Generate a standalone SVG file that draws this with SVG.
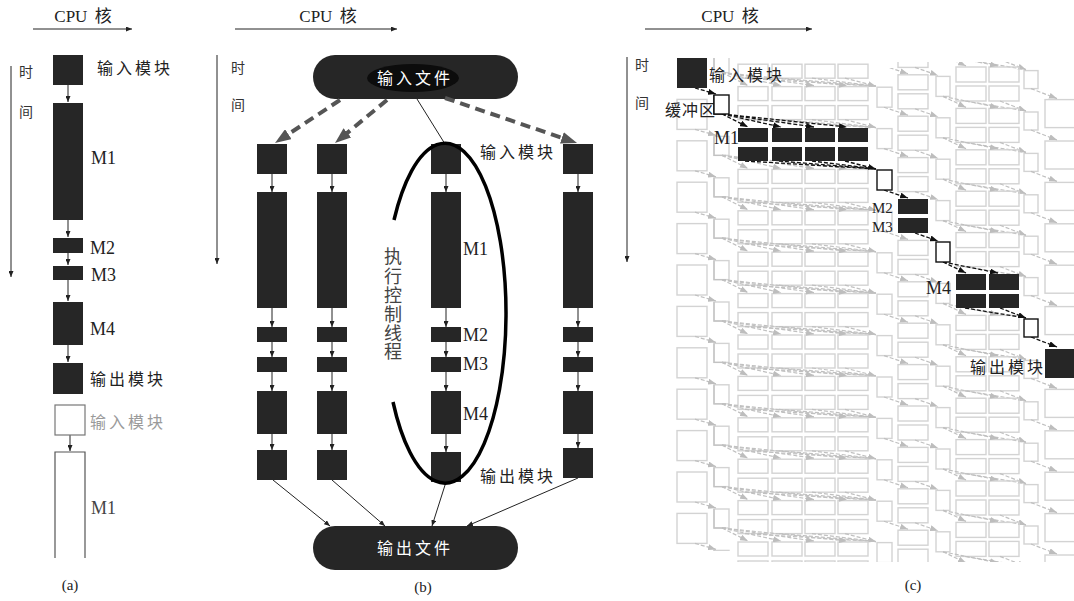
<svg xmlns="http://www.w3.org/2000/svg" xmlns:xlink="http://www.w3.org/1999/xlink" width="1074" height="601" viewBox="0 0 1074 601">
<style>
.dk{fill:#262626}
.t{font-family:"Liberation Serif","Noto Sans CJK SC",serif;font-size:16px;fill:#222;letter-spacing:3px}
.m{font-family:"Liberation Serif","Noto Sans CJK SC",serif;font-size:18px;fill:#222}
.cpu{font-family:"Liberation Serif","Noto Sans CJK SC",serif;font-size:17px;fill:#222;word-spacing:3px}
.tm{font-family:"Liberation Serif","Noto Sans CJK SC",serif;font-size:14px;fill:#333}
.cap{font-family:"Liberation Serif",serif;font-size:15px;fill:#222}
.thin{stroke:#222;stroke-width:1;fill:none;marker-end:url(#ms)}
.thick{stroke:#555;stroke-width:4;stroke-dasharray:10 6;fill:none;marker-end:url(#mb)}
.da{stroke:#111;stroke-width:1.3;stroke-dasharray:4 2;fill:none}
.dam{marker-end:url(#md)}
.buf{fill:#fff;stroke:#111;stroke-width:1.4}
.wt{font-family:"Liberation Serif","Noto Sans CJK SC",serif;font-size:16px;fill:#fff;letter-spacing:3px}
</style>
<defs>
<marker id="ms" markerUnits="userSpaceOnUse" markerWidth="6" markerHeight="5" refX="6" refY="2.5" orient="auto"><path d="M0,0 L6,2.5 L0,5 z" fill="#222"/></marker>
<marker id="mb" markerUnits="userSpaceOnUse" markerWidth="16" markerHeight="12" refX="2" refY="6" orient="auto"><path d="M0,0 L16,6 L0,12 z" fill="#555"/></marker>
<marker id="mg" markerUnits="userSpaceOnUse" markerWidth="8" markerHeight="6" refX="8" refY="3" orient="auto"><path d="M0,0 L8,3 L0,6 z" fill="#bdbdbd"/></marker>
<marker id="md" markerUnits="userSpaceOnUse" markerWidth="8" markerHeight="6" refX="8" refY="3" orient="auto"><path d="M0,0 L8,3 L0,6 z" fill="#111"/></marker>
<clipPath id="cclip"><polygon points="670,58 735,58 735,62 872,62 872,68 896,68 896,62 1074,62 1074,562 733,562 733,551 708,551 708,562 670,562"/></clipPath>
<g id="chain">
 <g fill="none" stroke="#d3d3d3" stroke-width="1.4">
  <rect x="677" y="58" width="30" height="30"/>
  <rect x="714" y="95" width="15" height="19"/>
  <rect x="738" y="128" width="30" height="14"/><rect x="772" y="128" width="30" height="14"/><rect x="805" y="128" width="30" height="14"/><rect x="838" y="128" width="30" height="14"/>
  <rect x="738" y="147" width="30" height="14"/><rect x="772" y="147" width="30" height="14"/><rect x="805" y="147" width="30" height="14"/><rect x="838" y="147" width="30" height="14"/>
  <rect x="877" y="170" width="15" height="20"/>
  <rect x="898" y="199" width="30" height="15"/><rect x="898" y="218" width="30" height="15"/>
  <rect x="936" y="242" width="14" height="20"/>
  <rect x="956" y="274" width="30" height="15"/><rect x="989" y="274" width="30" height="15"/>
  <rect x="956" y="293" width="30" height="15"/><rect x="989" y="293" width="30" height="15"/>
  <rect x="1024" y="319" width="14" height="18"/>
  <rect x="1045" y="348" width="30" height="28"/>
 </g>
 <path d="M714,95 V114 H726" fill="none" stroke="#c2c2c2" stroke-width="1.3"/>
 <g fill="none" stroke="#c0c0c0" stroke-width="1.2" stroke-dasharray="4 2" marker-end="url(#mg)">
  <path d="M695,88 L716,94"/>
  <path d="M722,114 L748,127"/><path d="M722,114 L781,127"/><path d="M722,114 L814,127"/><path d="M722,114 L847,127"/>
  <path d="M845,161 L876,169"/>
  <path d="M884,190 L908,198"/>
  <path d="M915,233 L938,241"/>
  <path d="M943,262 L966,273"/><path d="M943,262 L998,273"/>
  <path d="M1000,308 L1026,318"/>
  <path d="M1031,337 L1057,347"/>
 </g>
 <g fill="none" stroke="#c0c0c0" stroke-width="1.2" stroke-dasharray="4 2">
  <path d="M745,161 L876,169"/><path d="M779,161 L876,169"/><path d="M812,161 L876,169"/>
  <path d="M965,308 L1026,318"/>
 </g>
</g>
</defs>
<rect width="1074" height="601" fill="#fff"/>

<!-- Panel (a) -->
<g id="a-axes">
 <text class="cpu" x="83" y="22" text-anchor="middle">CPU 核</text>
 <line class="thin" x1="33" y1="29" x2="132" y2="29"/>
 <line class="thin" x1="11" y1="66" x2="11" y2="277"/>
 <text class="tm" x="26" y="77" text-anchor="middle">时</text>
 <text class="tm" x="26" y="117" text-anchor="middle">间</text>
</g>
<g id="a-connectors">
 <line class="thin" x1="68" y1="85" x2="68" y2="102"/>
 <line class="thin" x1="68" y1="220" x2="68" y2="237"/>
 <line class="thin" x1="68" y1="253" x2="68" y2="265"/>
 <line class="thin" x1="68" y1="280" x2="68" y2="301"/>
 <line class="thin" x1="68" y1="345" x2="68" y2="362"/>
 <line class="thin" x1="70" y1="435" x2="70" y2="451"/>
</g>
<g id="a-in"><rect class="dk" x="53" y="55" width="30" height="30"/><text class="t" x="97" y="74">输入模块</text></g>
<g id="a-m1"><rect class="dk" x="53" y="103" width="30" height="117"/><text class="m" x="91" y="164">M1</text></g>
<g id="a-m2"><rect class="dk" x="53" y="238" width="30" height="15"/><text class="m" x="90" y="254">M2</text></g>
<g id="a-m3"><rect class="dk" x="53" y="266" width="30" height="14"/><text class="m" x="91" y="281">M3</text></g>
<g id="a-m4"><rect class="dk" x="53" y="302" width="30" height="43"/><text class="m" x="90" y="335">M4</text></g>
<g id="a-out"><rect class="dk" x="53" y="363" width="30" height="31"/><text class="t" x="90" y="385">输出模块</text></g>
<g id="a-in2"><rect x="55" y="405" width="30" height="30" fill="#fff" stroke="#777" stroke-width="1.2"/><text class="t" x="90" y="428" style="fill:#9a9a9a">输入模块</text></g>
<g id="a-m1b"><path d="M55,558 V452 H85 V558" fill="none" stroke="#555" stroke-width="1.2"/><text class="m" x="91" y="514" style="fill:#444">M1</text></g>
<text class="cap" x="70" y="590" text-anchor="middle">(a)</text>

<!-- Panel (b) -->
<g id="b-axes">
 <text class="cpu" x="328" y="22" text-anchor="middle">CPU 核</text>
 <line class="thin" x1="235" y1="29" x2="397" y2="29"/>
 <line class="thin" x1="217" y1="55" x2="217" y2="264"/>
 <text class="tm" x="238" y="73" text-anchor="middle">时</text>
 <text class="tm" x="238" y="110" text-anchor="middle">间</text>
</g>
<g id="b-infile"><rect class="dk" x="313" y="55" width="205" height="44" rx="22"/><ellipse cx="413" cy="78" rx="46" ry="14" fill="#0c0c0c"/><text class="wt" x="415" y="84" text-anchor="middle">输入文件</text></g>
<g id="b-outfile"><rect class="dk" x="313" y="526" width="205" height="44" rx="22"/><text class="wt" x="415" y="554" text-anchor="middle">输出文件</text></g>
<g id="b-connectors">
 <path class="thick" d="M340,100 L286.7,135.3"/>
 <path class="thick" d="M387,100 L345.8,134.1"/>
 <path class="thick" d="M445,98 L563.8,138.5"/>
 <line x1="417" y1="99" x2="445" y2="144" stroke="#222" stroke-width="1"/>
 <line class="thin" x1="273" y1="480" x2="330" y2="526"/>
 <line class="thin" x1="332" y1="480" x2="385" y2="526"/>
 <line class="thin" x1="446" y1="482" x2="432" y2="526"/>
 <line class="thin" x1="578" y1="478" x2="467" y2="526"/>
 <g id="b-inner">
  <line class="thin" x1="272" y1="174" x2="272" y2="192"/><line class="thin" x1="272" y1="308" x2="272" y2="327"/><line class="thin" x1="272" y1="342" x2="272" y2="357"/><line class="thin" x1="272" y1="372" x2="272" y2="391"/><line class="thin" x1="272" y1="434" x2="272" y2="450"/>
  <line class="thin" x1="332" y1="174" x2="332" y2="192"/><line class="thin" x1="332" y1="308" x2="332" y2="327"/><line class="thin" x1="332" y1="342" x2="332" y2="357"/><line class="thin" x1="332" y1="372" x2="332" y2="391"/><line class="thin" x1="332" y1="434" x2="332" y2="450"/>
  <line class="thin" x1="446" y1="174" x2="446" y2="192"/><line class="thin" x1="446" y1="308" x2="446" y2="327"/><line class="thin" x1="446" y1="342" x2="446" y2="357"/><line class="thin" x1="446" y1="372" x2="446" y2="391"/><line class="thin" x1="446" y1="434" x2="446" y2="452"/>
  <line class="thin" x1="578" y1="174" x2="578" y2="192"/><line class="thin" x1="578" y1="308" x2="578" y2="327"/><line class="thin" x1="578" y1="342" x2="578" y2="357"/><line class="thin" x1="578" y1="372" x2="578" y2="391"/><line class="thin" x1="578" y1="434" x2="578" y2="448"/>
 </g>
</g>
<g id="b-col1">
 <rect class="dk" x="257" y="144" width="30" height="30"/><rect class="dk" x="257" y="192" width="30" height="116"/><rect class="dk" x="257" y="327" width="30" height="15"/><rect class="dk" x="257" y="357" width="30" height="15"/><rect class="dk" x="257" y="391" width="30" height="43"/><rect class="dk" x="257" y="450" width="30" height="30"/>
</g>
<g id="b-col2">
 <rect class="dk" x="317" y="144" width="30" height="30"/><rect class="dk" x="317" y="192" width="30" height="116"/><rect class="dk" x="317" y="327" width="30" height="15"/><rect class="dk" x="317" y="357" width="30" height="15"/><rect class="dk" x="317" y="391" width="30" height="43"/><rect class="dk" x="317" y="450" width="30" height="30"/>
</g>
<g id="b-col3">
 <rect class="dk" x="431" y="144" width="30" height="30"/><rect class="dk" x="431" y="192" width="30" height="116"/><rect class="dk" x="431" y="327" width="30" height="15"/><rect class="dk" x="431" y="357" width="30" height="15"/><rect class="dk" x="431" y="391" width="30" height="43"/><rect class="dk" x="431" y="452" width="30" height="30"/>
</g>
<g id="b-col4">
 <rect class="dk" x="563" y="144" width="30" height="30"/><rect class="dk" x="563" y="192" width="30" height="116"/><rect class="dk" x="563" y="327" width="30" height="15"/><rect class="dk" x="563" y="357" width="30" height="15"/><rect class="dk" x="563" y="391" width="30" height="43"/><rect class="dk" x="563" y="448" width="30" height="30"/>
</g>
<g id="b-thread">
 <path d="M394,220 A61,170 0 1 1 393,402" fill="none" stroke="#000" stroke-width="3.5"/>
 <g class="tm" style="font-size:18px;fill:#444" text-anchor="middle">
  <text x="393" y="263">执</text><text x="393" y="283">行</text><text x="393" y="302">控</text><text x="393" y="321">制</text><text x="393" y="340">线</text><text x="393" y="358">程</text>
 </g>
</g>
<g id="b-labels">
 <text class="t" x="480" y="158">输入模块</text>
 <text class="m" x="463" y="255">M1</text>
 <text class="m" x="463" y="341">M2</text>
 <text class="m" x="463" y="370">M3</text>
 <text class="m" x="463" y="420">M4</text>
 <text class="t" x="480" y="482">输出模块</text>
</g>
<text class="cap" x="423" y="592" text-anchor="middle">(b)</text>

<!-- Panel (c) -->
<g id="c-axes">
 <text class="cpu" x="730" y="22" text-anchor="middle">CPU 核</text>
 <line class="thin" x1="645" y1="29" x2="812" y2="29"/>
 <line class="thin" x1="627" y1="57" x2="627" y2="262"/>
 <text class="tm" x="642" y="70" text-anchor="middle">时</text>
 <text class="tm" x="642" y="108" text-anchor="middle">间</text>
</g>
<g id="c-pipeline-background" clip-path="url(#cclip)">
 <use xlink:href="#chain" transform="translate(0,-248.4)"/>
 <use xlink:href="#chain" transform="translate(0,-207)"/>
 <use xlink:href="#chain" transform="translate(0,-165.6)"/>
 <use xlink:href="#chain" transform="translate(0,-124.2)"/>
 <use xlink:href="#chain" transform="translate(0,-82.8)"/>
 <use xlink:href="#chain" transform="translate(0,-41.4)"/>
 <use xlink:href="#chain" transform="translate(0,41.4)"/>
 <use xlink:href="#chain" transform="translate(0,82.8)"/>
 <use xlink:href="#chain" transform="translate(0,124.2)"/>
 <use xlink:href="#chain" transform="translate(0,165.6)"/>
 <use xlink:href="#chain" transform="translate(0,207)"/>
 <use xlink:href="#chain" transform="translate(0,248.4)"/>
 <use xlink:href="#chain" transform="translate(0,289.8)"/>
 <use xlink:href="#chain" transform="translate(0,331.2)"/>
 <use xlink:href="#chain" transform="translate(0,372.6)"/>
 <use xlink:href="#chain" transform="translate(0,414)"/>
 <use xlink:href="#chain" transform="translate(0,455.4)"/>
</g>
<g id="c-labels">
 <text class="t" x="709" y="81">输入模块</text>
 <text class="t" x="665" y="116" style="letter-spacing:1px">缓冲区</text>
 <text class="m" x="714" y="144">M1</text>
 <text class="m" x="872" y="213" style="font-size:15px">M2</text>
 <text class="m" x="872" y="232" style="font-size:15px">M3</text>
 <text class="m" x="926" y="294">M4</text>
 <text class="t" x="970" y="373">输出模块</text>
</g>
<g id="c-connectors">
 <path class="da dam" d="M695,88 L716,94"/>
 <path d="M714,95 V114 H726" fill="none" stroke="#111" stroke-width="1.5"/>
 <path class="da dam" d="M722,114 L748,127"/><path class="da dam" d="M722,114 L781,127"/><path class="da dam" d="M722,114 L814,127"/><path class="da dam" d="M722,114 L847,127"/>
 <path class="da" d="M745,161 L876,169"/><path class="da" d="M779,161 L876,169"/><path class="da" d="M812,161 L876,169"/><path class="da dam" d="M845,161 L876,169"/>
 <path class="da dam" d="M884,190 L908,198"/>
 <path class="da dam" d="M915,233 L938,241"/>
 <path class="da dam" d="M943,262 L966,273"/><path class="da dam" d="M943,262 L998,273"/>
 <path class="da" d="M965,308 L1026,318"/><path class="da dam" d="M1000,308 L1026,318"/>
 <path class="da dam" d="M1031,337 L1057,347"/>
</g>
<g id="c-input"><rect class="dk" x="677" y="58" width="30" height="30"/></g>
<g id="c-buffer1"><rect class="buf" x="714" y="95" width="15" height="19"/></g>
<g id="c-m1">
 <rect class="dk" x="738" y="128" width="30" height="14"/><rect class="dk" x="772" y="128" width="30" height="14"/><rect class="dk" x="805" y="128" width="30" height="14"/><rect class="dk" x="838" y="128" width="30" height="14"/>
 <rect class="dk" x="738" y="147" width="30" height="14"/><rect class="dk" x="772" y="147" width="30" height="14"/><rect class="dk" x="805" y="147" width="30" height="14"/><rect class="dk" x="838" y="147" width="30" height="14"/>
</g>
<g id="c-buffer2"><rect class="buf" x="877" y="170" width="15" height="20"/></g>
<g id="c-m2m3"><rect class="dk" x="898" y="199" width="30" height="15"/><rect class="dk" x="898" y="218" width="30" height="15"/></g>
<g id="c-buffer3"><rect class="buf" x="936" y="242" width="14" height="20"/></g>
<g id="c-m4">
 <rect class="dk" x="956" y="274" width="30" height="16"/><rect class="dk" x="989" y="274" width="30" height="16"/>
 <rect class="dk" x="956" y="294" width="30" height="14"/><rect class="dk" x="989" y="294" width="30" height="14"/>
</g>
<g id="c-buffer4"><rect class="buf" x="1024" y="319" width="14" height="18"/></g>
<g id="c-output"><rect class="dk" x="1045" y="349" width="30" height="29"/></g>
<text class="cap" x="913" y="590" text-anchor="middle">(c)</text>
</svg>
